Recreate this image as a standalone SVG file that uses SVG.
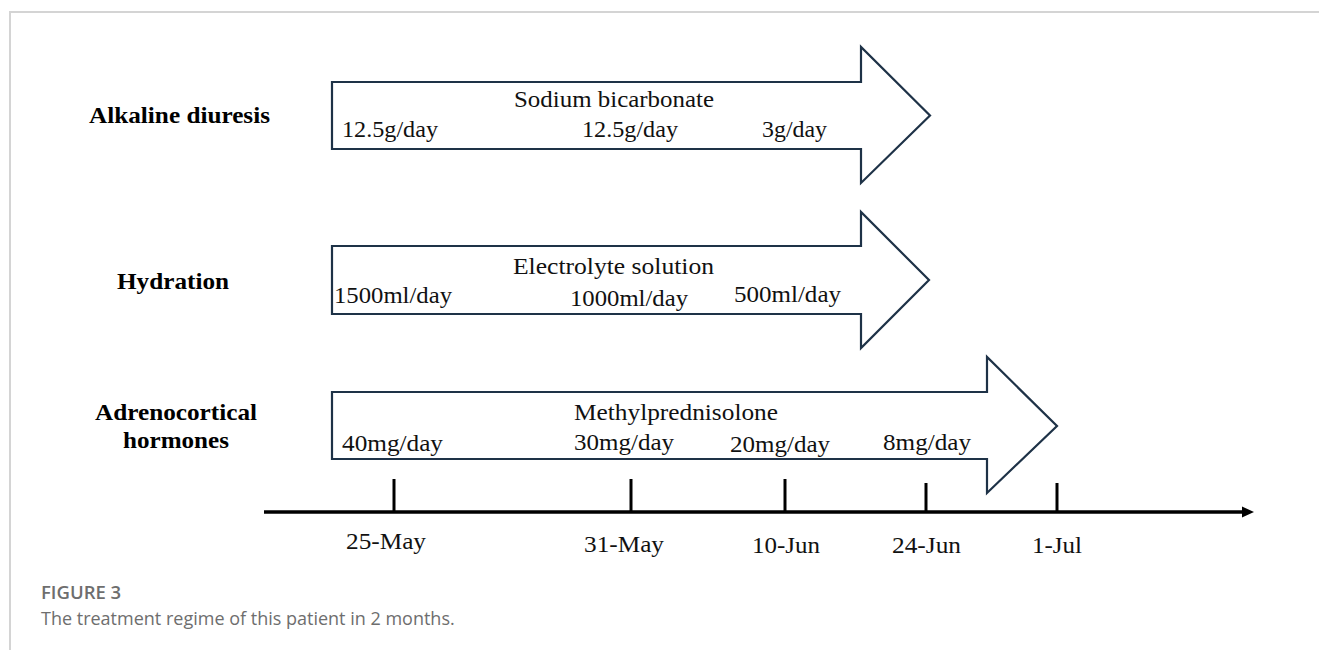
<svg xmlns="http://www.w3.org/2000/svg" width="1319" height="650" viewBox="0 0 1319 650">
<style>
.frame{stroke:#d4d4d4;stroke-width:2;fill:none}
.arr{fill:#ffffff;stroke:#1e3247;stroke-width:2.2;stroke-linejoin:miter}
.lbl{font-family:"Liberation Serif","Times New Roman",serif;font-weight:bold;font-size:24px;fill:#000}
.txt{font-family:"Liberation Serif","Times New Roman",serif;font-size:23px;fill:#111}
.axis{stroke:#000;stroke-width:3.5;fill:none}
.tick{stroke:#000;stroke-width:3}
.date{font-family:"Liberation Serif","Times New Roman",serif;font-size:23px;fill:#111}
.fig{font-family:"Open Sans","Noto Sans",sans-serif;font-size:18.5px;font-weight:600;fill:#6e6e6e}
.cap{font-family:"Open Sans","Noto Sans",sans-serif;font-size:18px;fill:#6e6e6e}
</style>
<defs>
<marker id="axhead" markerWidth="12" markerHeight="12" refX="2" refY="6" orient="auto" markerUnits="userSpaceOnUse">
<path d="M0,0.5 L12,6 L0,11.5 Z" fill="#000"/>
</marker>
</defs>
<rect width="1319" height="650" fill="#ffffff"/>
<path class="frame" d="M10,650 L10,12 L1319,12"/>

<g id="row-alkaline">
<text class="lbl" x="89" y="123" textLength="181" lengthAdjust="spacingAndGlyphs">Alkaline diuresis</text>
<path class="arr" d="M332,82 L861,82 L861,47 L930,115.5 L861,183 L861,149 L332,149 Z"/>
<text class="txt" x="514" y="107" textLength="200" lengthAdjust="spacingAndGlyphs">Sodium bicarbonate</text>
<text class="txt" x="342" y="137" textLength="96" lengthAdjust="spacingAndGlyphs">12.5g/day</text>
<text class="txt" x="582" y="137" textLength="96" lengthAdjust="spacingAndGlyphs">12.5g/day</text>
<text class="txt" x="762" y="137" textLength="65" lengthAdjust="spacingAndGlyphs">3g/day</text>
</g>

<g id="row-hydration">
<text class="lbl" x="117" y="289" textLength="112" lengthAdjust="spacingAndGlyphs">Hydration</text>
<path class="arr" d="M332,246 L861,246 L861,212 L929,280 L861,348 L861,314 L332,314 Z"/>
<text class="txt" x="513" y="274" textLength="201" lengthAdjust="spacingAndGlyphs">Electrolyte solution</text>
<text class="txt" x="334" y="303" textLength="118" lengthAdjust="spacingAndGlyphs">1500ml/day</text>
<text class="txt" x="570" y="306" textLength="118" lengthAdjust="spacingAndGlyphs">1000ml/day</text>
<text class="txt" x="734" y="302" textLength="107" lengthAdjust="spacingAndGlyphs">500ml/day</text>
</g>

<g id="row-adrenocortical">
<text class="lbl" x="95" y="420" textLength="162" lengthAdjust="spacingAndGlyphs">Adrenocortical</text>
<text class="lbl" x="123" y="448" textLength="106" lengthAdjust="spacingAndGlyphs">hormones</text>
<path class="arr" d="M332,392 L987,392 L987,357 L1057,426 L987,493 L987,459 L332,459 Z"/>
<text class="txt" x="574" y="420" textLength="204" lengthAdjust="spacingAndGlyphs">Methylprednisolone</text>
<text class="txt" x="342" y="451" textLength="101" lengthAdjust="spacingAndGlyphs">40mg/day</text>
<text class="txt" x="574" y="450" textLength="100" lengthAdjust="spacingAndGlyphs">30mg/day</text>
<text class="txt" x="730" y="452" textLength="100" lengthAdjust="spacingAndGlyphs">20mg/day</text>
<text class="txt" x="883" y="450" textLength="88" lengthAdjust="spacingAndGlyphs">8mg/day</text>
</g>

<g id="connectors">
<line class="axis" x1="264" y1="512" x2="1244" y2="512" marker-end="url(#axhead)"/>
<line class="tick" x1="394" y1="479" x2="394" y2="512"/>
<line class="tick" x1="631" y1="479" x2="631" y2="512"/>
<line class="tick" x1="785" y1="479" x2="785" y2="512"/>
<line class="tick" x1="926" y1="483" x2="926" y2="512"/>
<line class="tick" x1="1057" y1="483" x2="1057" y2="512"/>
</g>

<g id="dates">
<text class="date" x="346" y="549" textLength="80" lengthAdjust="spacingAndGlyphs">25-May</text>
<text class="date" x="584" y="552" textLength="80" lengthAdjust="spacingAndGlyphs">31-May</text>
<text class="date" x="752" y="553" textLength="68" lengthAdjust="spacingAndGlyphs">10-Jun</text>
<text class="date" x="892" y="553" textLength="69" lengthAdjust="spacingAndGlyphs">24-Jun</text>
<text class="date" x="1032" y="553" textLength="50" lengthAdjust="spacingAndGlyphs">1-Jul</text>
</g>

<g id="caption">
<text class="fig" x="41" y="599">FIGURE 3</text>
<text class="cap" x="41" y="625">The treatment regime of this patient in 2 months.</text>
</g>
</svg>
